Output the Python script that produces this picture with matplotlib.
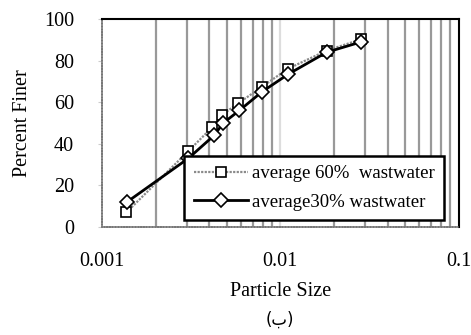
import matplotlib
matplotlib.use('Agg')
import matplotlib.pyplot as plt
from matplotlib.ticker import LogLocator, NullFormatter, FixedLocator

# Data
size_60 = [0.00137, 0.00305, 0.00416, 0.00473, 0.00582, 0.00793, 0.0110, 0.0182, 0.0284]
finer_60 = [7.0, 36.5, 48.0, 54.0, 59.5, 67.5, 76.0, 84.8, 90.2]

size_30 = [0.00138, 0.00305, 0.00425, 0.00479, 0.00589, 0.0079, 0.0111, 0.0182, 0.0285]
finer_30 = [12.0, 33.0, 44.0, 50.0, 56.0, 65.0, 73.5, 84.0, 89.0]

x_ticks = [0.001, 0.01, 0.1]
x_tick_labels = ['0.001', '0.01', '0.1']
y_ticks = [0, 20, 40, 60, 80, 100]

serif = 'Liberation Serif'

fig = plt.figure(figsize=(4.71, 3.35), dpi=100)
ax = fig.add_axes([0.2166, 0.3224, 0.757, 0.621])

ax.set_xscale('log')
ax.set_xlim(0.001, 0.1)
ax.set_ylim(0, 100)

# vertical grid lines at minor positions (dark gray) and 0.01 (light gray)
ax.xaxis.set_minor_locator(LogLocator(base=10, subs=range(2, 10)))
ax.xaxis.set_minor_formatter(NullFormatter())
ax.grid(True, which='minor', axis='x', color='#999999', linewidth=1.6)
ax.axvline(0.01, color='#dddddd', linewidth=1.6, zorder=0.5)
ax.set_axisbelow(True)

ax.plot(size_60, finer_60, color='#8a8a8a', linewidth=1.6, linestyle=(0, (1, 0.6)),
        marker='s', markersize=7.5, markerfacecolor='white', markeredgecolor='black',
        markeredgewidth=1.2, label='average 60%  wastwater', zorder=3)
ax.plot(size_30, finer_30, color='black', linewidth=2,
        marker='D', markersize=7.5, markerfacecolor='white', markeredgecolor='black',
        markeredgewidth=1.2, label='average30% wastwater', zorder=3)

ax.xaxis.set_major_locator(FixedLocator(x_ticks))
ax.set_xticks(x_ticks)
ax.set_xticklabels(x_tick_labels)
ax.set_yticks(y_ticks)
for lab in ax.get_xticklabels() + ax.get_yticklabels():
    lab.set_fontfamily(serif)
    lab.set_fontsize(14.5)
ax.tick_params(axis='x', which='both', length=0, pad=18)
ax.tick_params(axis='y', length=3, color='#cccccc', pad=17)

for side in ['top', 'right']:
    ax.spines[side].set_color('black')
    ax.spines[side].set_linewidth(1.5)
for side in ['left', 'bottom']:
    ax.spines[side].set_color('#777777')
    ax.spines[side].set_linewidth(1.2)
    ax.spines[side].set_linestyle((0, (1, 0.7)))

ax.set_xlabel('Particle Size', fontfamily=serif, fontsize=14.5, labelpad=8)
ax.set_ylabel('Percent Finer', fontfamily=serif, fontsize=14.5, labelpad=9)

leg = ax.legend(loc='lower right', bbox_to_anchor=(0.959, 0.034),
                prop={'family': serif, 'size': 13.5}, frameon=True, fancybox=False,
                edgecolor='black', framealpha=1, handlelength=2.9, handletextpad=0.2,
                borderpad=0.5, labelspacing=0.6, borderaxespad=0)
leg.get_frame().set_linewidth(1.8)
leg.set_zorder(5)

fig.text(0.595, 0.045, '(ب)', ha='center', va='center', fontsize=12,
         family=['DejaVu Sans'])

fig.savefig('out.png', dpi=100)
